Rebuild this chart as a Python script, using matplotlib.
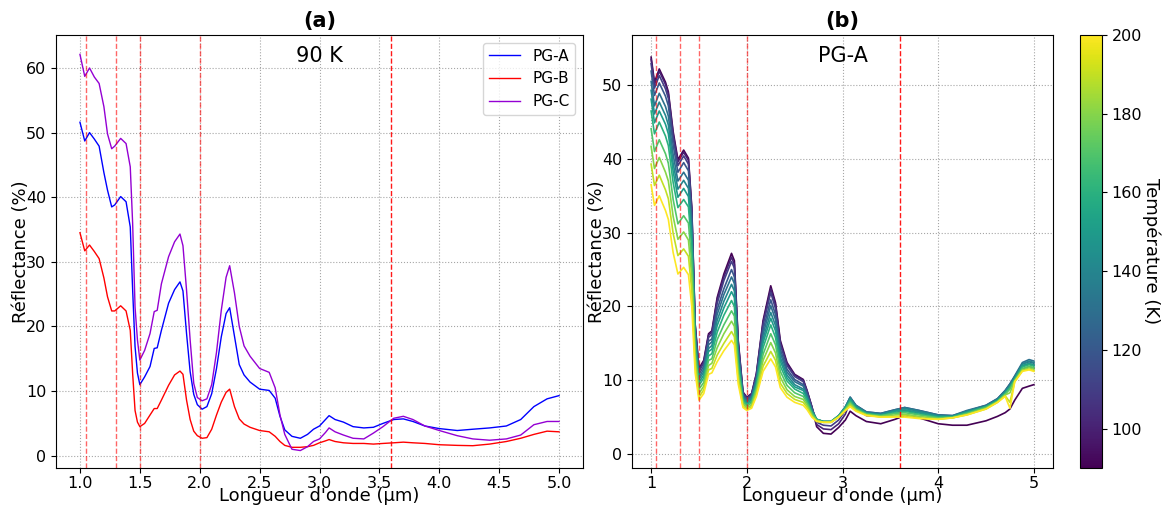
import numpy as np
import matplotlib
matplotlib.use("Agg")
import matplotlib.pyplot as plt
from matplotlib import cm, colors

# ---------------- Panel (a): 90 K spectra ----------------
wl_a = [1.00, 1.04, 1.08, 1.12, 1.16, 1.20, 1.23, 1.265, 1.29, 1.34,
        1.385, 1.42, 1.44, 1.46, 1.48, 1.50, 1.54, 1.585, 1.62, 1.645,
        1.68, 1.74, 1.79, 1.835, 1.86, 1.89, 1.92, 1.95, 1.98, 2.02,
        2.06, 2.10, 2.14, 2.18, 2.22, 2.25, 2.29, 2.33, 2.37, 2.42,
        2.50, 2.58, 2.63, 2.67, 2.71, 2.77, 2.84, 2.90, 2.95, 3.00,
        3.05, 3.08, 3.13, 3.20, 3.28, 3.37, 3.45, 3.53, 3.62, 3.70,
        3.78, 3.88, 4.00, 4.15, 4.28, 4.42, 4.56, 4.68, 4.79, 4.90,
        5.00]

pg_a = [51.6, 48.7, 50.0, 49.0, 47.9, 43.8, 41.1, 38.5, 38.8, 40.1,
        39.3, 35.4, 25.6, 16.9, 12.8, 11.0, 12.2, 13.8, 16.6, 16.7,
        19.4, 23.6, 25.7, 26.9, 25.5, 18.9, 13.0, 9.5, 7.9, 7.2,
        7.6, 9.6, 13.5, 18.4, 22.0, 22.9, 18.5, 14.1, 12.5, 11.4,
        10.3, 10.1, 8.9, 6.1, 4.0, 3.0, 2.7, 3.3, 4.1, 4.6,
        5.6, 6.2, 5.6, 5.2, 4.5, 4.3, 4.4, 5.0, 5.6, 5.7,
        5.3, 4.6, 4.2, 3.9, 4.1, 4.3, 4.6, 5.6, 7.6, 8.8,
        9.3]

pg_b = [34.5, 31.7, 32.6, 31.6, 30.5, 27.5, 24.6, 22.4, 22.4, 23.2,
        22.4, 19.4, 12.7, 7.0, 5.2, 4.5, 5.0, 6.3, 7.3, 7.3,
        8.6, 10.9, 12.5, 13.1, 12.6, 8.6, 5.6, 3.8, 3.1, 2.7,
        2.8, 4.1, 6.3, 8.3, 9.8, 10.3, 7.6, 5.7, 4.9, 4.4,
        3.9, 3.7, 3.0, 2.2, 1.6, 1.3, 1.3, 1.4, 1.6, 2.0,
        2.3, 2.5, 2.2, 2.0, 1.9, 1.9, 1.8, 1.9, 2.0, 2.1,
        2.0, 1.9, 1.7, 1.6, 1.55, 1.8, 2.2, 2.7, 3.3, 3.8,
        3.7]

pg_c = [62.1, 58.7, 60.0, 58.6, 57.6, 54.0, 49.8, 47.5, 47.9, 49.1,
        48.3, 44.7, 35.9, 23.0, 17.9, 14.8, 16.3, 18.9, 22.3, 22.5,
        26.6, 30.8, 33.1, 34.3, 32.5, 25.6, 17.9, 11.2, 9.0, 8.5,
        8.8, 11.0, 16.0, 22.5, 27.6, 29.4, 25.2, 20.0, 17.0, 15.4,
        13.5, 12.9, 10.5, 6.3, 3.3, 1.0, 0.8, 1.4, 2.2, 2.6,
        3.6, 4.3, 3.7, 3.2, 2.7, 2.6, 3.5, 4.5, 5.8, 6.1,
        5.6, 4.6, 3.9, 3.1, 2.6, 2.4, 2.6, 3.2, 4.8, 5.3,
        5.3]

labels_a = ["PG-A", "PG-B", "PG-C"]
colors_a = ["blue", "red", "darkviolet"]

# ---------------- Panel (b): PG-A vs temperature ----------------
wl_b = [1.00, 1.035, 1.085, 1.15, 1.18, 1.23, 1.28, 1.34, 1.39, 1.425,
        1.46, 1.50, 1.55, 1.60, 1.635, 1.69, 1.76, 1.84, 1.87, 1.91,
        1.96, 2.00, 2.05, 2.10, 2.17, 2.25, 2.30, 2.35, 2.42, 2.50,
        2.59, 2.63, 2.68, 2.73, 2.80, 2.88, 2.96, 3.03, 3.08, 3.14,
        3.25, 3.40, 3.55, 3.65, 3.80, 4.00, 4.15, 4.30, 4.50, 4.62,
        4.70, 4.75, 4.80, 4.88, 4.95, 5.00]

temps = [90, 100, 110, 120, 130, 140, 150, 160, 170, 180, 190, 200]

r_090 = [53.8, 50.4, 52.2, 50.4, 49.1, 43.7, 39.9, 41.2, 40.1, 33.4, 17.6, 11.6, 12.7, 16.3, 16.7, 21.2, 24.4, 27.2, 26.2, 15.4,
         8.4, 7.7, 8.2, 10.9, 18.1, 22.8, 20.5, 15.4, 12.4, 10.8, 10.1, 8.6, 6.4, 3.7, 2.8, 2.7, 3.6, 4.6, 5.8, 5.2,
         4.4, 4.1, 4.7, 5.2, 4.9, 4.1, 3.9, 3.9, 4.5, 5.1, 5.6, 6.1, 7.3, 8.9, 9.2, 9.4]
r_100 = [53.5, 50.1, 51.9, 50.1, 48.8, 43.4, 39.6, 40.9, 39.8, 33.1, 17.5, 11.4, 12.5, 16.1, 16.5, 20.9, 24.0, 26.7, 25.7, 15.2,
         8.3, 7.6, 8.1, 10.8, 17.8, 22.4, 20.2, 15.1, 12.2, 10.7, 10.0, 8.5, 6.4, 4.0, 3.4, 3.3, 4.1, 5.4, 7.2, 6.2,
         5.2, 5.1, 5.6, 5.9, 5.6, 5.0, 5.0, 5.5, 6.3, 7.2, 8.3, 9.2, 10.0, 11.5, 11.8, 11.6]
r_110 = [52.9, 49.6, 51.3, 49.5, 48.2, 42.9, 39.1, 40.4, 39.3, 32.7, 17.3, 11.2, 12.3, 15.8, 16.2, 20.4, 23.5, 26.1, 25.2, 14.9,
         8.2, 7.5, 8.0, 10.6, 17.5, 21.9, 19.7, 14.8, 12.0, 10.5, 9.8, 8.4, 6.3, 4.3, 3.9, 3.8, 4.6, 5.9, 7.6, 6.5,
         5.6, 5.4, 5.9, 6.2, 5.8, 5.2, 5.1, 5.7, 6.5, 7.4, 8.5, 9.4, 10.3, 11.9, 12.2, 12.0]
r_120 = [51.9, 48.6, 50.3, 48.5, 47.2, 41.9, 38.2, 39.5, 38.4, 31.9, 16.9, 10.8, 11.9, 15.3, 15.6, 19.6, 22.4, 25.0, 24.0, 14.3,
         8.0, 7.4, 7.8, 10.3, 16.8, 20.9, 18.9, 14.2, 11.5, 10.1, 9.4, 8.1, 6.1, 4.6, 4.3, 4.3, 5.1, 6.3, 7.7, 6.6,
         5.7, 5.5, 6.0, 6.3, 5.9, 5.3, 5.2, 5.8, 6.6, 7.5, 8.6, 9.5, 10.5, 12.2, 12.5, 12.3]
r_130 = [50.5, 47.2, 48.9, 47.1, 45.8, 40.6, 37.0, 38.2, 37.1, 30.9, 16.3, 10.4, 11.5, 14.8, 15.2, 18.9, 21.6, 24.0, 23.1, 13.8,
         7.8, 7.2, 7.7, 10.1, 16.2, 20.1, 18.2, 13.7, 11.1, 9.8, 9.2, 7.9, 6.0, 4.7, 4.4, 4.4, 5.2, 6.4, 7.7, 6.6,
         5.7, 5.5, 6.0, 6.3, 5.9, 5.3, 5.2, 5.9, 6.6, 7.5, 8.6, 9.5, 10.6, 12.4, 12.8, 12.6]
r_140 = [49.3, 46.1, 47.7, 45.9, 44.6, 39.4, 35.9, 37.1, 36.0, 29.9, 15.9, 10.1, 11.1, 14.3, 14.7, 18.1, 20.7, 23.0, 22.1, 13.3,
         7.6, 7.1, 7.5, 9.8, 15.6, 19.2, 17.4, 13.1, 10.7, 9.4, 8.8, 7.7, 5.9, 4.7, 4.4, 4.4, 5.2, 6.4, 7.6, 6.5,
         5.6, 5.4, 5.9, 6.2, 5.8, 5.2, 5.1, 5.8, 6.5, 7.4, 8.5, 9.3, 10.4, 12.2, 12.6, 12.4]
r_150 = [48.1, 44.9, 46.5, 44.7, 43.4, 38.3, 34.8, 36.0, 34.9, 29.0, 15.4, 9.7, 10.7, 13.9, 14.2, 17.4, 19.8, 22.0, 21.2, 12.8,
         7.5, 6.9, 7.3, 9.5, 15.1, 18.4, 16.7, 12.6, 10.3, 9.1, 8.6, 7.5, 5.8, 4.7, 4.4, 4.4, 5.2, 6.3, 7.4, 6.4,
         5.5, 5.3, 5.8, 6.0, 5.6, 5.1, 5.1, 5.7, 6.4, 7.3, 8.3, 9.1, 10.2, 12.0, 12.3, 12.1]
r_160 = [46.5, 43.4, 45.0, 43.1, 41.8, 36.8, 33.4, 34.5, 33.5, 27.8, 14.8, 9.3, 10.3, 13.3, 13.6, 16.5, 18.8, 20.8, 20.0, 12.2,
         7.3, 6.7, 7.1, 9.2, 14.4, 17.5, 15.8, 11.9, 9.9, 8.8, 8.2, 7.2, 5.6, 4.7, 4.4, 4.4, 5.1, 6.2, 7.2, 6.2,
         5.5, 5.2, 5.6, 5.8, 5.4, 5.0, 5.0, 5.6, 6.4, 7.2, 8.2, 9.0, 10.1, 11.8, 12.1, 11.9]
r_170 = [44.1, 41.0, 42.6, 40.7, 39.4, 34.5, 31.2, 32.3, 31.3, 25.9, 13.9, 8.8, 9.7, 12.7, 12.9, 15.5, 17.5, 19.4, 18.7, 11.5,
         7.0, 6.5, 6.9, 8.9, 13.5, 16.3, 14.8, 11.2, 9.3, 8.3, 7.8, 6.9, 5.5, 4.6, 4.3, 4.4, 5.1, 6.1, 7.0, 6.1,
         5.4, 5.2, 5.5, 5.6, 5.3, 4.9, 5.0, 5.5, 6.3, 7.1, 8.1, 8.8, 10.0, 11.6, 11.9, 11.7]
r_180 = [41.7, 38.7, 40.2, 38.2, 37.0, 32.2, 29.1, 30.1, 29.0, 24.0, 13.0, 8.2, 9.2, 12.0, 12.3, 14.4, 16.3, 18.0, 17.3, 10.8,
         6.8, 6.3, 6.6, 8.5, 12.7, 15.1, 13.7, 10.4, 8.7, 7.8, 7.4, 6.6, 5.3, 4.5, 4.3, 4.3, 5.0, 6.0, 6.8, 6.0,
         5.3, 5.1, 5.3, 5.4, 5.1, 4.8, 4.9, 5.4, 6.2, 7.1, 8.0, 8.3, 9.9, 11.4, 11.7, 11.5]
r_190 = [39.3, 36.4, 37.8, 35.8, 34.6, 29.9, 26.9, 27.8, 26.8, 22.1, 12.1, 7.7, 8.7, 11.4, 11.6, 13.4, 15.0, 16.6, 15.9, 10.1,
         6.5, 6.1, 6.4, 8.1, 11.9, 13.9, 12.7, 9.6, 8.2, 7.4, 7.0, 6.3, 5.1, 4.5, 4.3, 4.3, 5.0, 5.9, 6.6, 5.9,
         5.3, 5.0, 5.1, 5.2, 4.9, 4.7, 4.9, 5.3, 6.1, 7.0, 7.9, 7.0, 9.8, 11.3, 11.5, 11.3]
r_200 = [36.5, 33.7, 35.0, 33.0, 31.8, 27.3, 24.4, 25.3, 24.3, 20.0, 11.0, 7.3, 8.2, 10.8, 11.0, 12.5, 14.0, 15.4, 14.8, 9.5,
         6.3, 5.9, 6.2, 7.8, 11.2, 12.9, 11.8, 9.0, 7.7, 7.0, 6.6, 6.0, 5.0, 4.4, 4.3, 4.3, 5.0, 5.9, 6.4, 5.8,
         5.2, 5.0, 5.0, 5.0, 4.8, 4.7, 4.9, 5.3, 6.1, 7.0, 7.8, 6.2, 9.8, 11.2, 11.4, 11.2]

spectra_b = [r_090, r_100, r_110, r_120, r_130, r_140, r_150, r_160,
             r_170, r_180, r_190, r_200]

band_lines = [1.05, 1.3, 1.5, 2.0, 3.6]

# ---------------- Figure ----------------
W, H = 1162, 507
fig = plt.figure(figsize=(W / 100, H / 100), dpi=100)
ax1 = fig.add_axes([56 / W, 39 / H, 527 / W, 433 / H])
ax2 = fig.add_axes([632 / W, 39 / H, 421 / W, 433 / H])
cax = fig.add_axes([1080 / W, 39 / H, 22 / W, 433 / H])

TICK = 11.5
LAB = 13

for y, lab, c in zip([pg_a, pg_b, pg_c], labels_a, colors_a):
    ax1.plot(wl_a, y, color=c, lw=1.0, label=lab)

norm = colors.Normalize(vmin=90, vmax=200)
cmap = plt.get_cmap("viridis")
for t, y in zip(temps, spectra_b):
    ax2.plot(wl_b, y, color=cmap(norm(t)), lw=1.2)

for ax in (ax1, ax2):
    for v in band_lines:
        ax.axvline(v, color="red", ls="--", lw=1.0,
                   alpha=0.9 if v == 3.6 else 0.6)
    ax.grid(True, ls=":", color="gray", alpha=0.7, lw=0.8)
    ax.set_xlabel("Longueur d'onde (µm)", fontsize=LAB, labelpad=-3)
    ax.set_ylabel("Réflectance (%)", fontsize=LAB, labelpad=-3)
    ax.tick_params(labelsize=TICK)
    ax.tick_params(axis="x", pad=2.5)

ax1.set_xlim(0.8, 5.2)
ax1.set_ylim(-1.9, 65.1)
ax2.set_xlim(0.8, 5.2)
ax2.set_ylim(-1.9, 56.8)

ax1.set_xticks([1.0, 1.5, 2.0, 2.5, 3.0, 3.5, 4.0, 4.5, 5.0])
ax1.set_xticklabels(["1.0", "1.5", "2.0", "2.5", "3.0", "3.5", "4.0", "4.5", "5.0"])
ax1.set_yticks([0, 10, 20, 30, 40, 50, 60])
ax2.set_xticks([1, 2, 3, 4, 5])
ax2.set_yticks([0, 10, 20, 30, 40, 50])

ax1.set_title("(a)", fontsize=15, fontweight="bold")
ax2.set_title("(b)", fontsize=15, fontweight="bold")
ax1.text(0.5, 0.975, "90 K", transform=ax1.transAxes, ha="center", va="top", fontsize=15)
ax2.text(0.5, 0.975, "PG-A", transform=ax2.transAxes, ha="center", va="top", fontsize=15)

ax1.legend(loc="upper right", fontsize=11)

sm = cm.ScalarMappable(norm=norm, cmap=cmap)
sm.set_array([])
cb = fig.colorbar(sm, cax=cax)
cb.set_label("Température (K)", rotation=270, labelpad=13, fontsize=LAB)
cb.ax.tick_params(labelsize=TICK)

fig.savefig("out.png", dpi=100)
